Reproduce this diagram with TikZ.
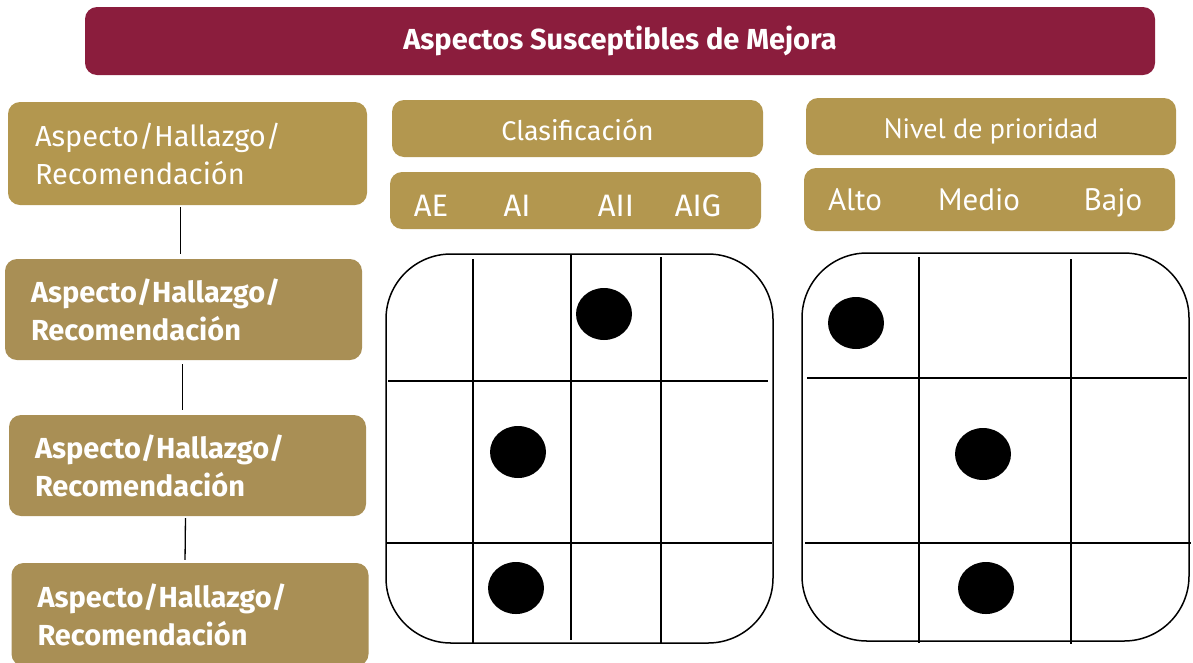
\documentclass[tikz,border=0pt]{standalone}
\usepackage{fontspec}
\setmainfont{Fira Sans}
\newfontfamily\ptsans{PT Sans}
\usepackage{xcolor}
\definecolor{guinda}{HTML}{8B1D3D}
\definecolor{dorado}{HTML}{B3974F}
\definecolor{doradob}{HTML}{A98F55}

\tikzset{
  caja/.style={rounded corners=12pt, text=white, inner sep=0pt},
  aspecto/.style={caja, minimum width=357pt, minimum height=101pt,
    text width=305pt, align=left, font=\bfseries\fontsize{29}{38}\selectfont},
  encab/.style={caja, fill=dorado, minimum width=371pt, minimum height=57pt},
  etiq/.style={text=white, inner sep=0pt, anchor=base},
  rejilla/.style={line width=1.5pt},
  punto/.style={fill=black, x radius=28pt, y radius=26pt}
}

\begin{document}
\begin{tikzpicture}[x=1pt,y=-1pt]
\useasboundingbox (0,0) rectangle (1193,662);

\node[caja, fill=guinda, minimum width=1070pt, minimum height=68pt,
  font=\bfseries\fontsize{29}{32}\selectfont] (titulo) at (620,41)
  {Aspectos Susceptibles de Mejora};

\node[aspecto, fill=dorado, minimum width=359pt, minimum height=103pt,
  font=\fontsize{29}{38}\selectfont] (asp1) at (187.5,153.5)
  {Aspecto/Hallazgo/\\Recomendación};
\node[aspecto, fill=doradob] (asp2) at (183.5,309.5)
  {Aspecto/Hallazgo/\\Recomendación};
\node[aspecto, fill=doradob] (asp3) at (187.5,465.5)
  {Aspecto/Hallazgo/\\Recomendación};
\node[aspecto, fill=doradob, minimum height=103pt] (asp4) at (190,614.5)
  {Aspecto/Hallazgo/\\Recomendación};

\draw[line width=1.3pt, shorten <=2pt, shorten >=5pt] ([xshift=-7pt]asp1.south) -- ([xshift=-3pt]asp2.north);
\draw[line width=1.3pt, shorten <=4pt, shorten >=5pt] ([xshift=-1pt]asp2.south) -- ([xshift=-5pt]asp3.north);
\draw[line width=1.3pt, shorten <=2pt, shorten >=3pt] ([xshift=-2pt]asp3.south) -- ([xshift=-5pt]asp4.north);

\node[encab] (clasif) at (577.5,128.5) {};
\node[etiq, font=\fontsize{27}{30}\selectfont] (clasiftxt) at (577.5,140) {Clasificación};
\node[encab] (tipos) at (575.5,200.5) {};
\node[etiq, font=\fontsize{31}{34}\selectfont] (ae) at (431,216) {AE};
\node[etiq, font=\fontsize{31}{34}\selectfont] (ai) at (517,216) {AI};
\node[etiq, font=\fontsize{31}{34}\selectfont] (aii) at (616,216) {AII};
\node[etiq, font=\fontsize{31}{34}\selectfont] (aig) at (698,216) {AIG};

\node[encab, minimum width=370pt] (nivel) at (991,126.5) {};
\node[etiq, font=\ptsans\fontsize{28}{30}\selectfont] (niveltxt) at (991,138) {Nivel de prioridad};
\node[encab, minimum height=63pt] (niveles) at (989.5,199.5) {};
\node[etiq, font=\ptsans\fontsize{31}{34}\selectfont] (alto) at (855,210) {Alto};
\node[etiq, font=\ptsans\fontsize{31}{34}\selectfont] (medio) at (979,210) {Medio};
\node[etiq, font=\ptsans\fontsize{31}{34}\selectfont] (bajo) at (1113,210) {Bajo};

\draw[rejilla, rounded corners=65pt] (386,254) rectangle (773,643);
\draw[rejilla] (473,259) -- (473,644);
\draw[rejilla] (571,255) -- (571,640);
\draw[rejilla] (661,257) -- (661,643);
\draw[rejilla] (388,381) -- (768,381);
\draw[rejilla] (387,543) -- (772,543);
\fill[punto] (604,314) ellipse [];
\fill[punto] (518,452) ellipse [];
\fill[punto] (516,588) ellipse [];

\draw[rejilla, rounded corners=65pt] (802,253) rectangle (1189,641);
\draw[rejilla] (919,257) -- (919,643);
\draw[rejilla] (1071,259) -- (1071,644);
\draw[rejilla] (807,378) -- (1187,378);
\draw[rejilla] (805,543) -- (1191,543);
\fill[punto] (856,323) ellipse [];
\fill[punto] (983,454) ellipse [];
\fill[punto] (986,588) ellipse [];
\end{tikzpicture}
\end{document}
